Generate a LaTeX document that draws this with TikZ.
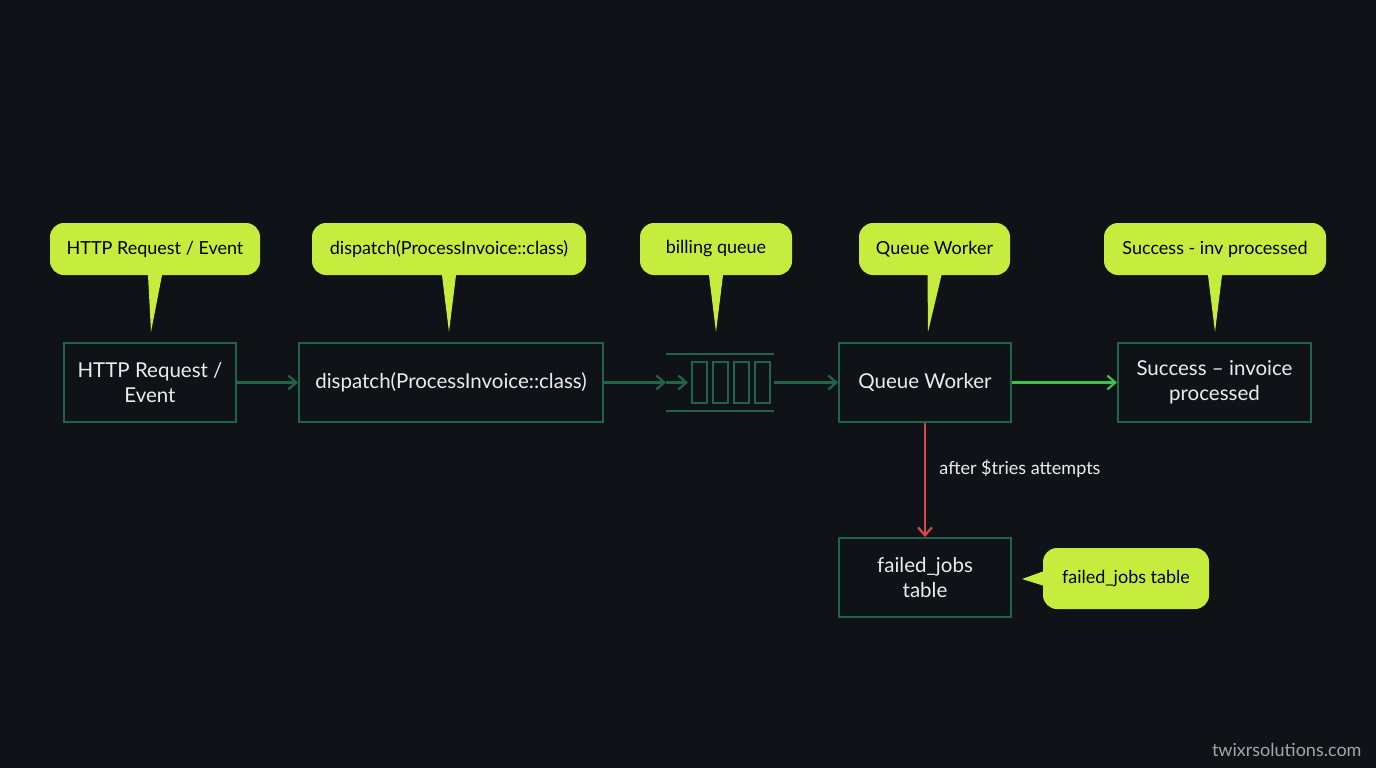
\documentclass[tikz,border=0pt]{standalone}
\usepackage{fontspec}
\setmainfont{Lato}
\usetikzlibrary{positioning,arrows.meta}
\definecolor{bgc}{HTML}{0F1217}
\definecolor{boxc}{HTML}{22634A}
\definecolor{limec}{HTML}{C6EC3E}
\definecolor{okc}{HTML}{3DC04C}
\definecolor{failc}{HTML}{D9464B}
\definecolor{txtc}{HTML}{ECECEC}
\tikzset{
  stage/.style={draw=boxc,line width=2pt,text=txtc,align=center,minimum height=79pt,font=\fontsize{20.5}{25}\selectfont},
  tag/.style={fill=limec,rounded corners=14pt,text=black,minimum height=52pt,font=\fontsize{18}{20}\selectfont},
  flow/.style={draw=boxc,line width=2.2pt,-{Straight Barb[length=8pt,width=14pt]}},
}
\newcommand{\tail}[2]{\fill[limec] ([xshift=-7pt]#1.south) -- (#2) -- ([xshift=7pt]#1.south) -- cycle;}
\begin{document}
\begin{tikzpicture}[x=1pt,y=-1pt]
	\fill[bgc] (0,0) rectangle (1376,768);
	\useasboundingbox (0,0) rectangle (1376,768);
        %
        \node[stage,minimum width=172pt] (req) at (150,382.5) {HTTP Request /\\Event};
        \node[stage,minimum width=304pt] (disp) at (451,382.5) {dispatch(ProcessInvoice::class)};
        \node[stage,minimum width=172pt] (work) at (925,382.5) {Queue Worker};
        \node[stage,minimum width=193pt] (done) at (1214.5,382.5) {Success -- invoice\\processed};
        \node[stage,minimum width=172pt] (fail) at (925,577.5) {failed\_jobs\\table};
        %
        \coordinate (qin) at (666,382.5);
        \coordinate (qout) at (774,382.5);
        \draw[boxc,line width=2pt] (666,354) -- (774,354) (666,411) -- (774,411);
        \foreach \i in {0,1,2,3}
          \draw[boxc,line width=2pt] (692+\i*21,362) rectangle ++(15,41);
        %
        \draw[flow] (req) -- (disp);
        \draw[flow] (disp) -- (qin);
        \draw[boxc,line width=2.2pt,-{Straight Barb[length=8pt,width=14pt]}] (666,382.5) -- (688,382.5);
        \draw[flow] (qout) -- (work);
        \draw[flow,draw=okc] (work) -- (done);
        \draw[flow,draw=failc] (work) -- node[pos=0.4,right=10pt,text=txtc,font=\fontsize{18}{20}\selectfont] {after \$tries attempts} (fail);
        %
        \node[tag,minimum width=210pt] (treq) at (155,249) {HTTP Request / Event};
        \node[tag,minimum width=274pt] (tdisp) at (449,249) {dispatch(ProcessInvoice::class)};
        \node[tag,minimum width=152pt] (tq) at (716,249) {billing queue};
        \node[tag,minimum width=151pt] (twork) at (934.5,249) {Queue Worker};
        \node[tag,minimum width=222pt] (tdone) at (1215,249) {Success - inv processed};
        \node[tag,minimum width=166pt,minimum height=61pt] (tfail) at (1126,578.5) {failed\_jobs table};
        \coordinate (p1) at (151,332);
        \coordinate (p2) at (449,332);
        \coordinate (p3) at (716,332);
        \coordinate (p4) at (928,332);
        \coordinate (p5) at (1215,332);
        \coordinate (p6) at (1022,579);
        \tail{treq}{p1}
        \tail{tdisp}{p2}
        \tail{tq}{p3}
        \tail{twork}{p4}
        \tail{tdone}{p5}
        \fill[limec] ([yshift=-7pt]tfail.west) -- (p6) -- ([yshift=7pt]tfail.west) -- cycle;
        %
        \node[text=gray!70,anchor=east,font=\fontsize{18}{20}\selectfont] (mark) at (1365,750) {twixrsolutions.com};
\end{tikzpicture}
\end{document}
